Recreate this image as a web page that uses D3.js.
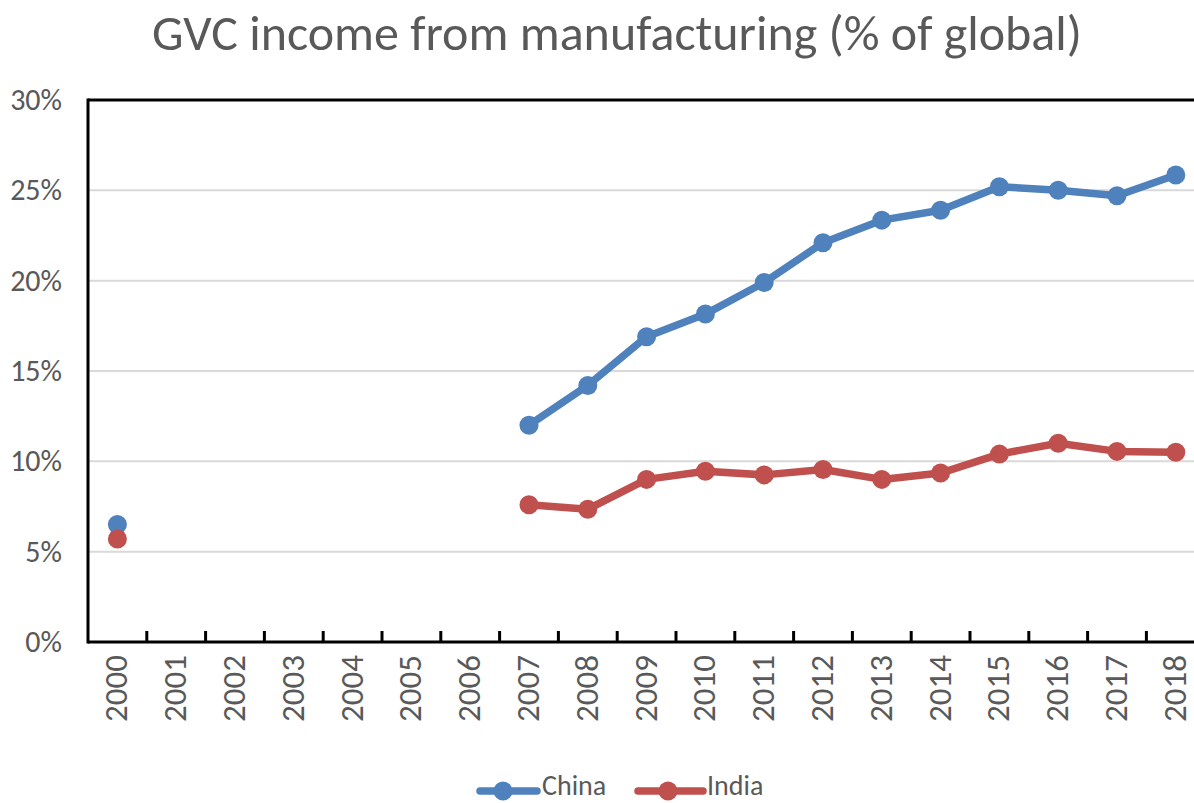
<!DOCTYPE html>
<html>
<head>
<meta charset="utf-8">
<script src="https://cdn.jsdelivr.net/npm/d3@7"></script>
<style>
  html, body { margin: 0; padding: 0; background: #fff; }
  svg { display: block; font-family: Carlito, Lato, "Open Sans", sans-serif; }
</style>
</head>
<body>
<svg id="chart" width="1194" height="803"></svg>
<script>
// Years on the category axis
const years = ["2000","2001","2002","2003","2004","2005","2006","2007","2008","2009",
               "2010","2011","2012","2013","2014","2015","2016","2017","2018"];
// Share of global GVC income from manufacturing (%), null = no data
const china = [6.5, null, null, null, null, null, null, 12.0, 14.2, 16.9,
               18.15, 19.9, 22.1, 23.35, 23.9, 25.2, 25.0, 24.7, 25.85];
const india = [5.7, null, null, null, null, null, null, 7.6, 7.35, 9.0,
               9.45, 9.25, 9.55, 9.0, 9.35, 10.4, 11.0, 10.55, 10.5];
const yTicks = [0, 5, 10, 15, 20, 25, 30];
const seriesNames = ["China", "India"];
const seriesColors = ["#4F81BD", "#C0504D"];

const svg = d3.select("#chart");
const margin = { left: 88, top: 100, bottom: 642 };
const plotRight = 88 + 19 * 58.8;

const x = d3.scaleBand().domain(years).range([margin.left, plotRight]);
const y = d3.scaleLinear().domain([0, 30]).range([margin.bottom, margin.top]);

const textColor = "#595959";
const font = "Carlito, Lato, 'Open Sans', sans-serif";

// Title
svg.append("text")
  .attr("x", 617).attr("y", 50)
  .attr("text-anchor", "middle")
  .attr("font-size", 50)
  .attr("fill", textColor)
  .text("GVC income from manufacturing (% of global)");

// Horizontal gridlines
svg.append("g")
  .selectAll("line")
  .data(yTicks.filter(t => t > 0 && t < 30))
  .join("line")
  .attr("x1", margin.left).attr("x2", plotRight)
  .attr("y1", d => y(d)).attr("y2", d => y(d))
  .attr("stroke", "#d9d9d9").attr("stroke-width", 2);

// Y axis labels
const yAxis = d3.axisLeft(y).tickValues(yTicks).tickSize(0).tickPadding(26)
  .tickFormat(d => d + "%");
const gy = svg.append("g").attr("transform", `translate(${margin.left},0)`).call(yAxis);
gy.select(".domain").remove();
gy.selectAll("text").attr("font-size", 30).attr("fill", textColor)
  .attr("font-family", font);

// Frame: top border and left border
svg.append("line")
  .attr("x1", margin.left).attr("x2", plotRight)
  .attr("y1", y(30)).attr("y2", y(30))
  .attr("stroke", "#000").attr("stroke-width", 3);
svg.append("line")
  .attr("x1", margin.left).attr("x2", margin.left)
  .attr("y1", y(30) - 1.5).attr("y2", y(0) + 1.5)
  .attr("stroke", "#000").attr("stroke-width", 3);

// X axis with ticks at category boundaries
const gx = svg.append("g").attr("transform", `translate(0,${margin.bottom})`);
gx.append("line")
  .attr("x1", margin.left).attr("x2", plotRight)
  .attr("stroke", "#000").attr("stroke-width", 3);
gx.selectAll("line.tick")
  .data(years.slice(1))
  .join("line")
  .attr("class", "tick")
  .attr("x1", d => x(d)).attr("x2", d => x(d))
  .attr("y1", 0).attr("y2", -11)
  .attr("stroke", "#000").attr("stroke-width", 3);
gx.selectAll("text")
  .data(years)
  .join("text")
  .attr("transform", d => `translate(${x(d) + x.bandwidth() / 2 + 10},13) rotate(-90)`)
  .attr("text-anchor", "end")
  .attr("font-size", 33)
  .attr("fill", textColor)
  .text(d => d);

// Lines and markers
const line = d3.line()
  .defined(d => d.v != null)
  .x(d => x(d.year) + x.bandwidth() / 2)
  .y(d => y(d.v));

[china, india].forEach((vals, i) => {
  const data = years.map((yr, j) => ({ year: yr, v: vals[j] }));
  const g = svg.append("g");
  g.append("path")
    .datum(data)
    .attr("d", line)
    .attr("fill", "none")
    .attr("stroke", seriesColors[i])
    .attr("stroke-width", 7.5)
    .attr("stroke-linejoin", "round");
  g.selectAll("circle")
    .data(data.filter(d => d.v != null))
    .join("circle")
    .attr("cx", d => x(d.year) + x.bandwidth() / 2)
    .attr("cy", d => y(d.v))
    .attr("r", 9.5)
    .attr("fill", seriesColors[i]);
});

// Legend
const legendItems = [
  { x0: 480, x1: 537, mx: 503, tx: 542 },
  { x0: 638, x1: 703, mx: 668, tx: 707 }
];
const legendY = 791;
legendItems.forEach((it, i) => {
  svg.append("line")
    .attr("x1", it.x0).attr("x2", it.x1)
    .attr("y1", legendY).attr("y2", legendY)
    .attr("stroke", seriesColors[i]).attr("stroke-width", 7.5)
    .attr("stroke-linecap", "round");
  svg.append("circle")
    .attr("cx", it.mx).attr("cy", legendY).attr("r", 9.5)
    .attr("fill", seriesColors[i]);
  svg.append("text")
    .attr("x", it.tx).attr("y", 795)
    .attr("font-size", 28)
    .attr("fill", textColor)
    .text(seriesNames[i]);
});
</script>
</body>
</html>
